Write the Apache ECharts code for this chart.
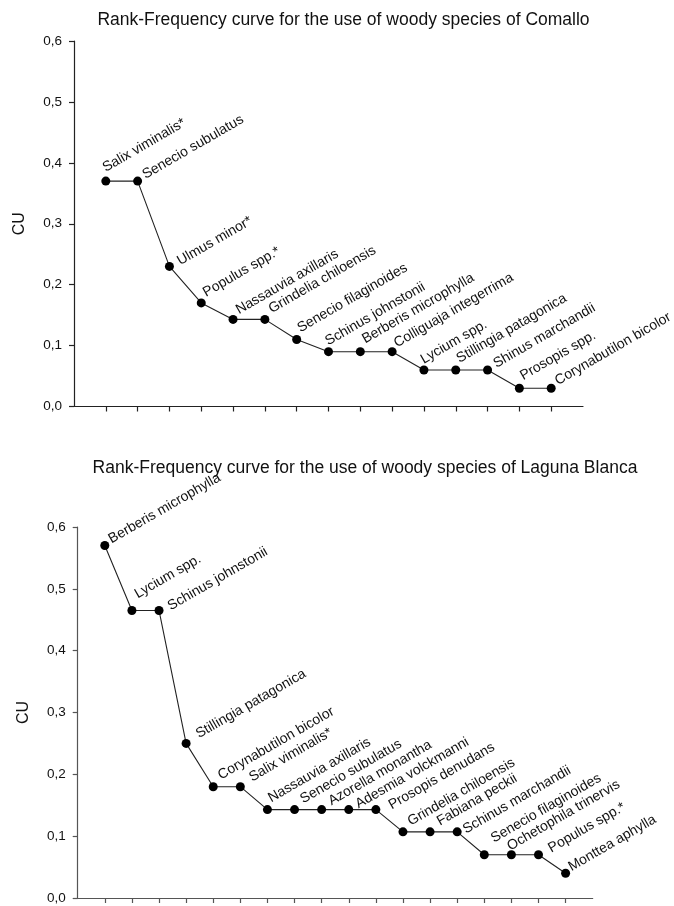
<!DOCTYPE html>
<html>
<head>
<meta charset="utf-8">
<script src="https://cdn.jsdelivr.net/npm/echarts@6/dist/echarts.min.js"></script>
<style>
  html, body { margin: 0; padding: 0; background: #fff; }
  #chart { width: 674px; height: 906px; }
</style>
</head>
<body>
<div id="chart"></div>
<script>
// ---- data ----
const topTitle = 'Rank-Frequency curve for the use of woody species of Comallo';
const bottomTitle = 'Rank-Frequency curve for the use of woody species of Laguna Blanca';
const yAxisName = 'CU';
const yTickLabels = ['0,0', '0,1', '0,2', '0,3', '0,4', '0,5', '0,6'];

const topNames = ['Salix viminalis*', 'Senecio subulatus', 'Ulmus minor*', 'Populus spp.*',
  'Nassauvia axillaris', 'Grindelia chiloensis', 'Senecio filaginoides', 'Schinus johnstonii',
  'Berberis microphylla', 'Colliguaja integerrima', 'Lycium spp.', 'Stillingia patagonica',
  'Shinus marchandii', 'Prosopis spp.', 'Corynabutilon bicolor'];
const topValues = [0.37, 0.37, 0.23, 0.17, 0.143, 0.143, 0.11, 0.09, 0.09, 0.09, 0.06, 0.06, 0.06, 0.03, 0.03];

const bottomNames = ['Berberis microphylla', 'Lycium spp.', 'Schinus johnstonii', 'Stillingia patagonica',
  'Corynabutilon bicolor', 'Salix viminalis*', 'Nassauvia axillaris', 'Senecio subulatus',
  'Azorella monantha', 'Adesmia volckmanni', 'Prosopis denudans', 'Grindelia chiloensis',
  'Fabiana peckii', 'Schinus marchandii', 'Senecio filaginoides', 'Ochetophila trinervis',
  'Populus spp.*', 'Monttea aphylla'];
const bottomValues = [0.57, 0.465, 0.465, 0.25, 0.18, 0.18, 0.143, 0.143, 0.143, 0.143, 0.143,
  0.107, 0.107, 0.107, 0.07, 0.07, 0.07, 0.04];

// ---- layout / style (kept separate from data) ----
const FONT = 'Liberation Sans, Arial, sans-serif';
const LABEL_ROT = 30;
// where each label's text starts, relative to its point, in screen pixels [dx, dy]
const topLabelStart = [[-3, -9], [5, -2], [8, -1], [2, -6], [3, -5], [4, -6], [1, -7], [-3, -6],
  [2, -8], [2, -4], [-3, -6], [1, -7], [6, -2], [1, -8], [4, -3]];
const bottomLabelStart = [[4, -2], [3, -12], [9, 0], [10, -5], [5, -7], [9, -5], [1, -7], [6, -6],
  [7, -4], [7, -1], [13, 0], [5, -6], [7, -6], [6, 2], [7, -12], [-4, -4], [10, -2], [3, -2]];

// local (rotated text frame) offset that puts the baseline start at the wanted screen spot
function labelOffset(d) {
  const t = LABEL_ROT * Math.PI / 180, c = Math.cos(t), n = Math.sin(t);
  const x = d[0] + 4, y = d[1];
  return [x * c - y * n - 1, x * n + y * c + 2.5];
}

function ticksFor(n) { const a = []; for (let i = 1; i <= n; i++) a.push(i); return a; }

function makeSeries(idx, names, values, starts) {
  return {
    type: 'line',
    xAxisIndex: idx, yAxisIndex: idx,
    symbol: 'circle', symbolSize: 9,
    itemStyle: { color: '#000' },
    lineStyle: { color: '#222', width: 1.1 },
    data: values.map((v, i) => ({ value: [i + 1, v], label: { offset: labelOffset(starts[i]) } })),
    label: {
      show: true,
      position: 'inside',
      rotate: LABEL_ROT,
      align: 'left',
      verticalAlign: 'bottom',
      color: '#111',
      fontFamily: FONT,
      fontSize: 14,
      formatter: p => names[p.dataIndex]
    },
    emphasis: { disabled: true }
  };
}

function makeX(idx, n, color) {
  return {
    type: 'value', gridIndex: idx, min: 0, max: n + 1, interval: 1,
    axisLine: { show: true, lineStyle: { color: color, width: 1.2 } },
    axisTick: { show: true, inside: false, length: 5, customValues: ticksFor(n), lineStyle: { color: color, width: 1.2 } },
    axisLabel: { show: false },
    splitLine: { show: false }
  };
}

function makeY(idx, color) {
  return {
    type: 'value', gridIndex: idx, min: 0, max: 0.6, interval: 0.1,
    name: yAxisName, nameLocation: 'middle', nameGap: 46,
    nameTextStyle: { fontFamily: FONT, fontSize: 16, color: '#111' },
    axisLine: { show: true, lineStyle: { color: color, width: 1.2 } },
    axisTick: { show: true, inside: false, length: 5, lineStyle: { color: color, width: 1.2 } },
    axisLabel: {
      margin: 12, fontFamily: FONT, fontSize: 13.5, color: '#111',
      formatter: v => yTickLabels[Math.round(v * 10)]
    },
    splitLine: { show: false }
  };
}

const chart = echarts.init(document.getElementById('chart'), null, { renderer: 'canvas' });
chart.setOption({
  animation: false,
  backgroundColor: '#fff',
  title: [
    { text: topTitle, left: 338.5, top: 6, textAlign: 'center',
      textStyle: { fontFamily: FONT, fontSize: 17.5, fontWeight: 'normal', color: '#111' } },
    { text: bottomTitle, left: 360, top: 454, textAlign: 'center',
      textStyle: { fontFamily: FONT, fontSize: 17.5, fontWeight: 'normal', color: '#111' } }
  ],
  grid: [
    { left: 74, top: 41, width: 509, height: 365.5 },
    { left: 77.7, top: 527, width: 515, height: 371 }
  ],
  xAxis: [makeX(0, topNames.length, '#222'), makeX(1, bottomNames.length, '#555')],
  yAxis: [makeY(0, '#222'), makeY(1, '#555')],
  series: [
    makeSeries(0, topNames, topValues, topLabelStart),
    makeSeries(1, bottomNames, bottomValues, bottomLabelStart)
  ]
});
</script>
</body>
</html>
